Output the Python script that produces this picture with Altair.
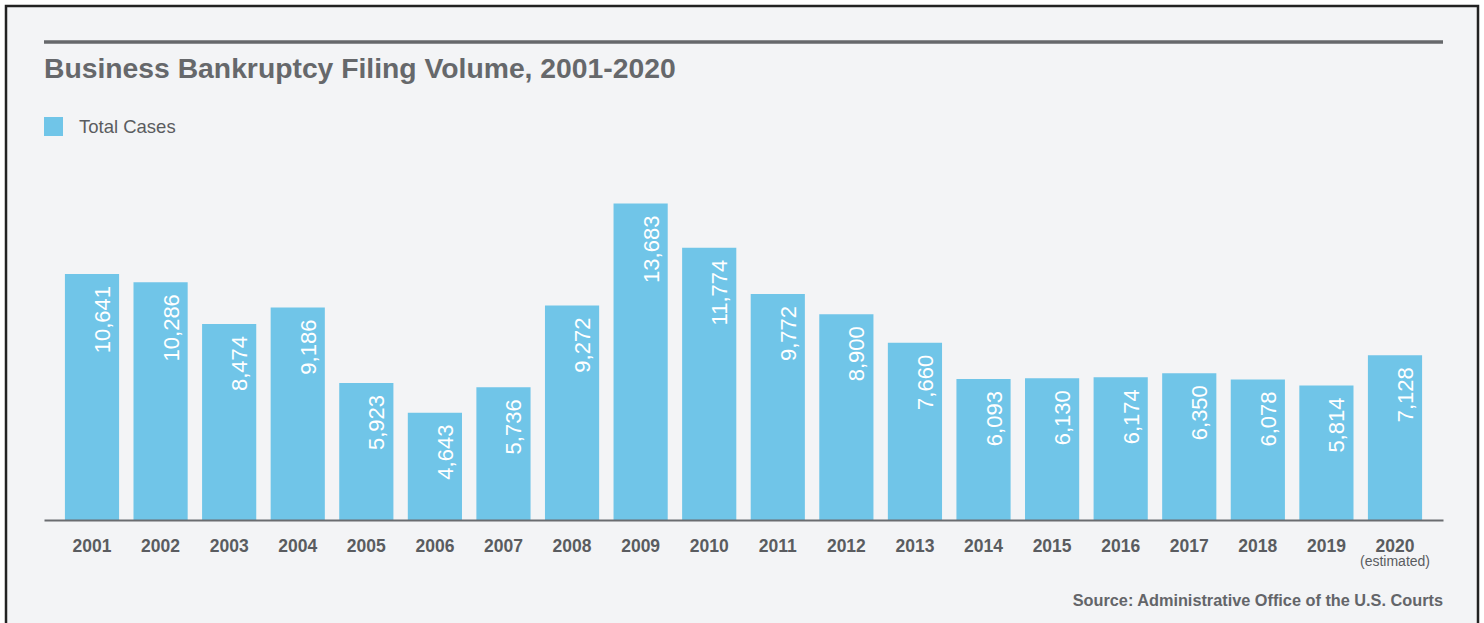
import altair as alt
import pandas as pd

years = ["2001", "2002", "2003", "2004", "2005", "2006", "2007", "2008", "2009", "2010",
         "2011", "2012", "2013", "2014", "2015", "2016", "2017", "2018", "2019", "2020"]
cases = [10641, 10286, 8474, 9186, 5923, 4643, 5736, 9272, 13683, 11774,
         9772, 8900, 7660, 6093, 6130, 6174, 6350, 6078, 5814, 7128]
series_name = "Total Cases"
title_text = "Business Bankruptcy Filing Volume, 2001-2020"
source_text = "Source: Administrative Office of the U.S. Courts"
note_year = "2020"
note_text = "(estimated)"

df = pd.DataFrame({"year": years, "cases": cases, "series": series_name})
one = pd.DataFrame({"k": [0]})
note_df = pd.DataFrame({"year": [note_year], "note": [note_text]})

W, H = 1399, 370
FONT = "Liberation Sans"
BAR = "#70c5e8"
BG = "#f3f4f6"
TXT = "#5a5c60"

x_enc = alt.X("year:N", sort=years,
              scale=alt.Scale(paddingInner=0.21, paddingOuter=0.305),
              axis=alt.Axis(title=None, labelAngle=0, ticks=False, domainColor="#6a6c70",
                            domainWidth=2, labelFontSize=17.5, labelFontWeight="bold",
                            labelColor=TXT, labelPadding=17, labelFont=FONT,
                            labelBaseline="top", zindex=2))
y_scale = alt.Scale(domain=[0, 16000])

frame = alt.Chart(one).mark_rect(fill=BG, stroke="#222222", strokeWidth=2.5).encode(
    x=alt.value(-38), x2=alt.value(1434), y=alt.value(-144), y2=alt.value(520))

top_rule = alt.Chart(one).mark_rule(color="#66686b", strokeWidth=3.5).encode(
    x=alt.value(0), x2=alt.value(W), y=alt.value(-108))

title = alt.Chart(one).mark_text(text=title_text, align="left", baseline="alphabetic",
                                 font=FONT, fontSize=28.3, fontWeight="bold",
                                 color="#66686b").encode(
    x=alt.value(0), y=alt.value(-72))

bars = alt.Chart(df).mark_bar().encode(
    x=x_enc,
    y=alt.Y("cases:Q", scale=y_scale, axis=None),
    color=alt.Color("series:N", scale=alt.Scale(range=[BAR]),
                    legend=alt.Legend(title=None, orient="none", legendX=0, legendY=-33,
                                      symbolType="square", symbolSize=361,
                                      symbolStrokeWidth=0, labelFontSize=18.5,
                                      labelColor=TXT, labelFont=FONT, labelOffset=16)),
)

labels = alt.Chart(df).mark_text(angle=270, align="right", baseline="middle",
                                 dx=-12, dy=11, color="white", font=FONT,
                                 fontSize=22).encode(
    x=alt.X("year:N", sort=years),
    y=alt.Y("cases:Q", scale=y_scale),
    text=alt.Text("cases:Q", format=","))

note = alt.Chart(note_df).mark_text(baseline="middle", font=FONT, fontSize=14,
                                    color=TXT).encode(
    x=alt.X("year:N", sort=years), y=alt.value(412), text="note:N")

source = alt.Chart(one).mark_text(text=source_text, align="right", baseline="middle",
                                  font=FONT, fontSize=16.3, fontWeight="bold",
                                  color="#636569").encode(
    x=alt.value(W), y=alt.value(451))

chart = alt.layer(frame, top_rule, title, bars, labels, note, source).properties(
    width=W, height=H,
    padding={"left": 44, "top": 150, "right": 41, "bottom": 103},
    autosize=alt.AutoSizeParams(type="none"),
    background="white",
).configure_view(stroke=None)

chart.save("out.html", embed_options={"renderer": "svg", "actions": False})
